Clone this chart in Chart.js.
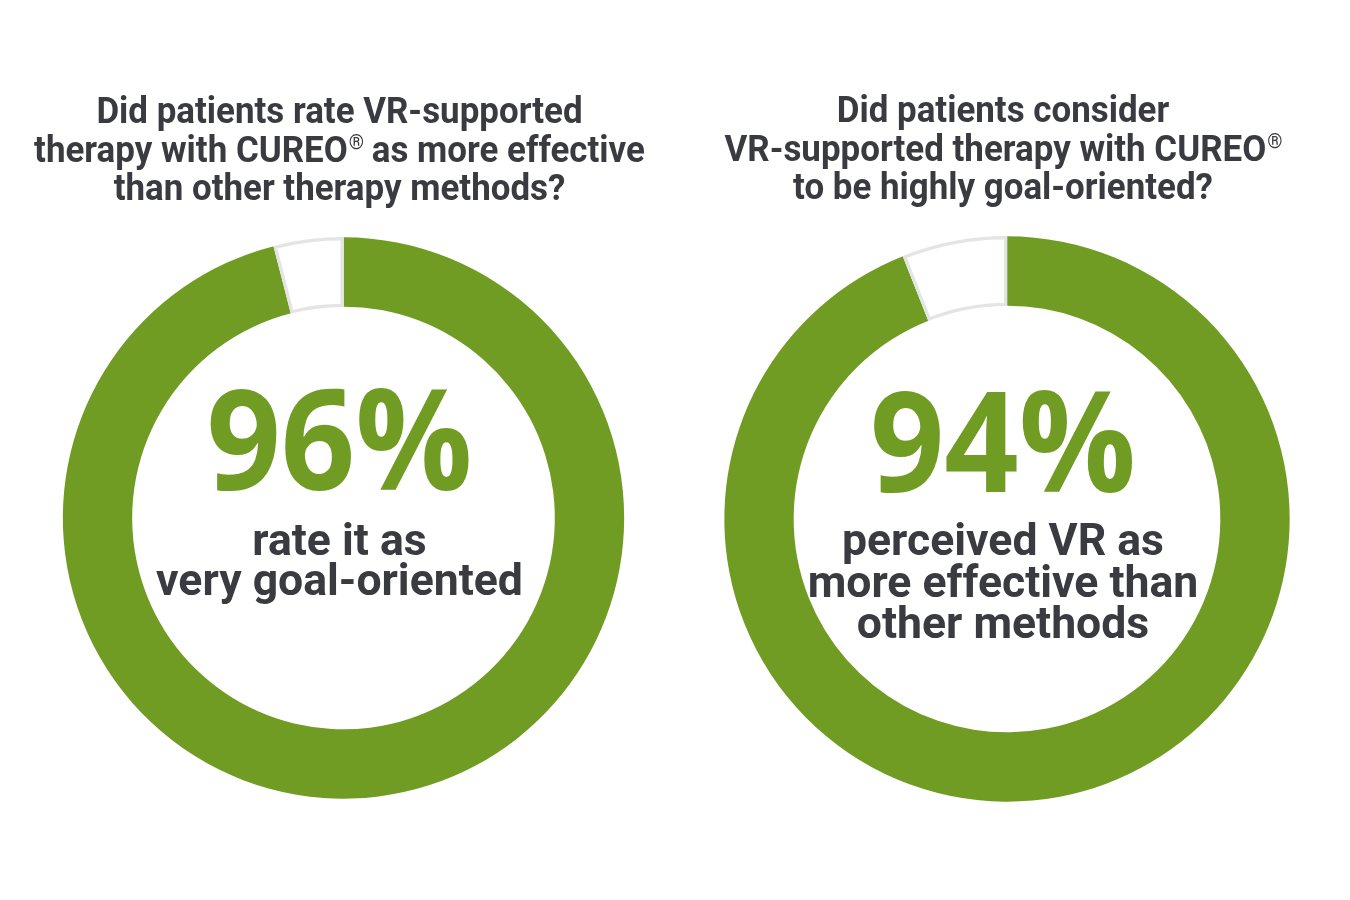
<!DOCTYPE html>
<html>
<head>
<meta charset="utf-8">
<script src="https://cdn.jsdelivr.net/npm/chart.js@4.4.1/dist/chart.umd.min.js"></script>
<style>
    body { margin: 0; background: #fff; width: 1350px; height: 900px; overflow: hidden; position: relative; }
    canvas { position: absolute; top: 0; }
    #chart-left { left: 0; }
    #chart-right { left: 675px; }
</style>
</head>
<body>
<canvas id="chart-left" width="675" height="900" style="width:675px;height:900px"></canvas>
<canvas id="chart-right" width="675" height="900" style="width:675px;height:900px"></canvas>
<script>
// Data
const sliceLabels = ['Yes', 'No'];
const leftValues = [96, 4];
const rightValues = [94, 6];

// Texts
const leftTitle = ['Did patients rate VR-supported', 'therapy with CUREO® as more effective', 'than other therapy methods?'];
const leftBig = '96%';
const leftBody = ['rate it as', 'very goal-oriented'];

const rightTitle = ['Did patients consider', 'VR-supported therapy with CUREO®', 'to be highly goal-oriented?'];
const rightBig = '94%';
const rightBody = ['perceived VR as', 'more effective than', 'other methods'];

// Colors
const greenColor = '#709c23';
const textColor = '#3a3b40';
const gapBorder = '#e4e4e4';

function drawLine(ctx, text, x, y, size, family, color, squeeze) {
    const parts = text.split('®');
    const mainFont = 'bold ' + size + 'px ' + family;
    const supFont = 'normal ' + Math.round(size * 0.55) + 'px ' + family;
    ctx.font = mainFont;
    const widths = parts.map(p => ctx.measureText(p).width);
    ctx.font = supFont;
    const supW = ctx.measureText('®').width;
    const total = widths.reduce((a, b) => a + b, 0) + supW * (parts.length - 1);

    ctx.save();
    ctx.translate(x, y);
    ctx.scale(squeeze, 1);
    ctx.fillStyle = color;
    ctx.textAlign = 'left';
    ctx.textBaseline = 'alphabetic';
    let px = -total / 2;
    parts.forEach((p, i) => {
        ctx.font = mainFont;
        ctx.fillText(p, px, 0);
        px += widths[i];
        if (i < parts.length - 1) {
            ctx.font = supFont;
            ctx.fillText('®', px + 1, -size * 0.36);
            px += supW;
        }
    });
    ctx.restore();
}

const ringText = {
    id: 'ringText',
    afterDraw(chart, args, opts) {
        const ctx = chart.ctx;
        const arc = chart.getDatasetMeta(0).data[0];
        const cx = arc.x + opts.dx;

        opts.title.forEach((line, i) => {
            drawLine(ctx, line, cx, opts.titleY + i * 38.5, 36, 'Roboto', textColor, 0.97);
        });
        drawLine(ctx, opts.big, cx, opts.bigY, 140, '"Open Sans"', greenColor, 0.93);
        opts.body.forEach((line, i) => {
            drawLine(ctx, line, cx, opts.bodyY + i * opts.bodyGap, 45, 'Roboto', textColor, 0.99);
        });
    }
};

function ringConfig(values, radius, padding, text) {
    return {
        type: 'doughnut',
        data: {
            labels: sliceLabels,
            datasets: [
                {
                    data: values,
                    backgroundColor: [greenColor, '#ffffff'],
                    borderColor: [greenColor, gapBorder],
                    borderWidth: [0, 3],
                    borderAlign: 'inner'
                }
            ]
        },
        options: {
            responsive: false,
            animation: false,
            events: [],
            radius: radius,
            cutout: radius - 70,
            layout: { padding: padding },
            plugins: {
                legend: { display: false },
                tooltip: { enabled: false },
                title: { display: false },
                ringText: text
            }
        },
        plugins: [ringText]
    };
}

const ctxLeft = document.getElementById('chart-left');
new Chart(ctxLeft, ringConfig(leftValues, 281,
    { left: 62, right: 50, top: 237, bottom: 101 },
    { title: leftTitle, big: leftBig, body: leftBody, dx: -4, titleY: 123, bigY: 490, bodyY: 555, bodyGap: 40 }));

const ctxRight = document.getElementById('chart-right');
new Chart(ctxRight, ringConfig(rightValues, 283,
    { left: 49, right: 60, top: 236, bottom: 98 },
    { title: rightTitle, big: rightBig, body: rightBody, dx: -4, titleY: 122, bigY: 492, bodyY: 555, bodyGap: 41.5 }));
</script>
</body>
</html>
